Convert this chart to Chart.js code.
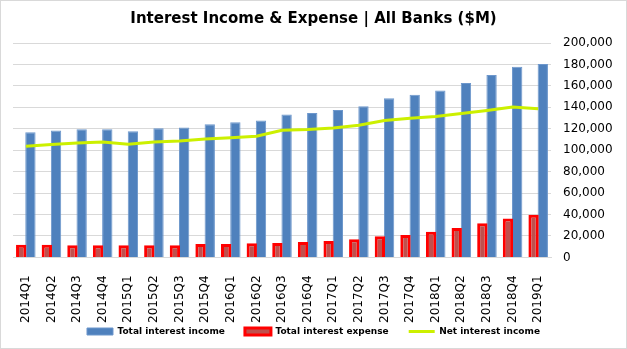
<!DOCTYPE html>
<html>
<head>
<meta charset="utf-8">
<script src="https://cdn.jsdelivr.net/npm/chart.js@4.4.1/dist/chart.umd.min.js"></script>
<style>
  html, body { margin: 0; padding: 0; background: #fff; }
  #wrap { width: 627px; height: 349px; }
</style>
</head>
<body>
<div id="wrap"><canvas id="chart" width="627" height="349"></canvas></div>
<script>
const quarters = ['2014Q1', '2014Q2', '2014Q3', '2014Q4', '2015Q1', '2015Q2', '2015Q3', '2015Q4',
  '2016Q1', '2016Q2', '2016Q3', '2016Q4', '2017Q1', '2017Q2', '2017Q3', '2017Q4',
  '2018Q1', '2018Q2', '2018Q3', '2018Q4', '2019Q1'];

const totalIncome = [116700, 118300, 119500, 119500, 117700, 120500, 121100, 124200,
  126100, 127700, 133300, 134600, 137400, 141100, 148400, 151800,
  155600, 162700, 170200, 177800, 180300];

const totalExpense = [11900, 11900, 11300, 11300, 11300, 11300, 11300, 12500,
  12500, 13100, 13400, 14300, 15300, 16900, 19700, 20900,
  23800, 27500, 31900, 36300, 39700];

const netIncome = [103600, 105200, 106800, 107700, 105500, 107700, 108600, 110500,
  111700, 113000, 118600, 119200, 120800, 123300, 127700, 129900,
  131500, 134300, 137100, 140200, 138700];

const yTicks = [0, 20000, 40000, 60000, 80000, 100000, 120000, 140000, 160000, 180000, 200000];

const FONT = "'DejaVu Sans', Verdana, sans-serif";
const LEGEND_LIFT = 26;

// white background + thin grey frame round the whole chart
const frame = {
  id: 'frame',
  beforeDraw(chart) {
    const { ctx, width, height } = chart;
    ctx.save();
    ctx.fillStyle = '#fff';
    ctx.fillRect(0, 0, width, height);
    ctx.strokeStyle = '#d9d9d9';
    ctx.lineWidth = 1;
    ctx.strokeRect(0.5, 0.5, width - 1, height - 1);
    ctx.restore();
  }
};

// keep wide gaps between legend items but not the tall box that padding brings
const legendLift = {
  id: 'legendLift',
  beforeInit(chart) {
    const legend = chart.legend;
    const fit = legend.fit.bind(legend);
    const draw = legend.draw.bind(legend);
    legend.fit = () => { fit(); legend.height -= LEGEND_LIFT; };
    legend.draw = () => {
      legend.top -= LEGEND_LIFT;
      draw();
      legend.top += LEGEND_LIFT;
    };
  }
};

const ctx = document.getElementById('chart').getContext('2d');

const data = {
  labels: quarters,
  datasets: [
    {
      type: 'line',
      label: 'Net interest income',
      data: netIncome,
      borderColor: '#ccf000',
      backgroundColor: '#ccf000',
      borderWidth: 3,
      pointRadius: 0,
      tension: 0,
    },
    {
      label: 'Total interest expense',
      data: totalExpense,
      backgroundColor: '#c0504d',
      borderColor: '#ff0000',
      borderWidth: 3,
      barPercentage: 1.12,
      categoryPercentage: 0.72,
    },
    {
      label: 'Total interest income',
      data: totalIncome,
      backgroundColor: '#4f81bd',
      borderColor: '#6d97cc',
      borderWidth: 1,
      barPercentage: 1.12,
      categoryPercentage: 0.72,
    }
  ]
};

const legendOrder = { 'Total interest income': 0, 'Total interest expense': 1, 'Net interest income': 2 };

const options = {
  responsive: false,
  animation: false,
  layout: {
    padding: { top: 4, right: 13, bottom: 3, left: 13 }
  },
  scales: {
    x: {
      grid: { display: false },
      border: { display: true, color: '#d9d9d9' },
      ticks: {
        color: '#000',
        font: { family: FONT, size: 12 },
        minRotation: 90,
        maxRotation: 90,
        padding: 10,
        autoSkip: false,
      }
    },
    y: {
      position: 'right',
      min: 0,
      max: 200000,
      afterBuildTicks: axis => { axis.ticks = yTicks.map(v => ({ value: v })); },
      afterFit: scale => { scale.width = 63; },
      grid: { color: '#d9d9d9', drawTicks: false },
      border: { display: false },
      ticks: {
        color: '#000',
        font: { family: FONT, size: 12 },
        padding: 12,
        callback: value => value.toLocaleString('en-US'),
      }
    }
  },
  plugins: {
    title: {
      display: true,
      text: 'Interest Income & Expense | All Banks ($M)',
      color: '#000',
      font: { family: FONT, size: 15, weight: 'bold' },
      padding: { top: 6, bottom: 15 },
    },
    legend: {
      position: 'bottom',
      labels: {
        color: '#000',
        font: { family: FONT, size: 9, weight: 'bold' },
        usePointStyle: true,
        pointStyleWidth: 26,
        boxHeight: 7,
        padding: 20,
        sort: (a, b) => legendOrder[a.text] - legendOrder[b.text],
        generateLabels: chart => Chart.defaults.plugins.legend.labels.generateLabels(chart).map(item => {
          item.pointStyle = item.text === 'Net interest income' ? 'line' : 'rect';
          return item;
        }),
      }
    },
    tooltip: { enabled: false }
  }
};

new Chart(ctx, {
  type: 'bar',
  data: data,
  options: options,
  plugins: [frame, legendLift]
});
</script>
</body>
</html>
